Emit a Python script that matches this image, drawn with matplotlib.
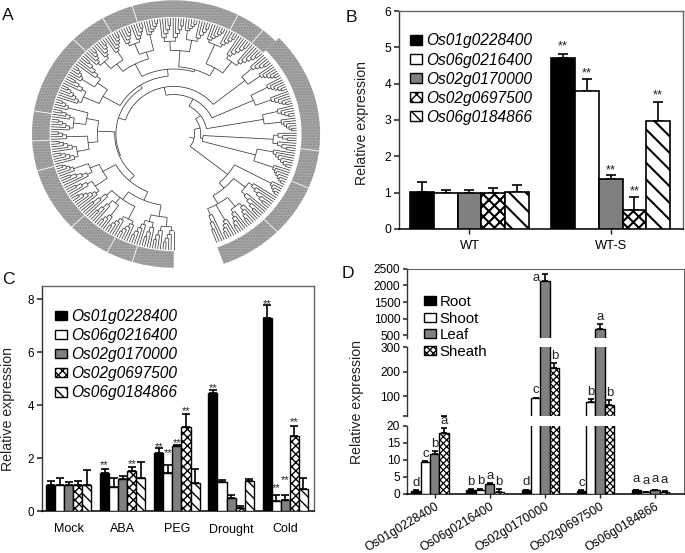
#!/usr/bin/env python3
"""Four panel figure: circular gene tree plus three relative expression bar charts."""

import matplotlib
matplotlib.use("Agg")
import matplotlib.pyplot as plt
import numpy as np
from matplotlib.collections import LineCollection
from matplotlib.patches import Patch, Wedge

W, H = 685, 553

genes = ["Os01g0228400", "Os06g0216400", "Os02g0170000", "Os02g0697500", "Os06g0184866"]

# panel B
b_groups = ["WT", "WT-S"]
b_values = [[1.03, 4.71], [1.0, 3.81], [1.0, 1.38], [1.0, 0.53], [1.02, 2.98]]
b_tops = [[1.28, 4.81], [1.07, 4.13], [1.07, 1.49], [1.13, 0.88], [1.22, 3.49]]
b_stars = [5.16, 4.40, 1.75, 1.16, 3.80]

# panel C
c_groups = ["Mock", "ABA", "PEG", "Drought", "Cold"]
c_values = [
    [1.0, 1.45, 2.2, 4.45, 7.3],
    [1.0, 0.9, 1.42, 1.1, 0.37],
    [1.0, 1.2, 2.47, 0.5, 0.43],
    [1.0, 1.52, 3.17, 0.1, 2.84],
    [1.0, 1.25, 1.06, 1.13, 0.85],
]
c_tops = [
    [1.15, 1.6, 2.39, 4.59, 7.77],
    [1.24, 1.25, 1.73, 1.17, 0.61],
    [1.08, 1.31, 2.49, 0.61, 0.59],
    [1.15, 1.68, 3.65, 0.18, 3.22],
    [1.54, 1.85, 1.58, 1.22, 1.24],
]
c_stars = [
    [None, 1.88, 2.55, 4.79, 7.97],
    [None, None, 2.33, None, 1.01],
    [None, None, 2.7, None, 1.32],
    [None, 1.92, 3.9, None, 3.5],
    [None, None, None, None, None],
]

# panel D
tissues = ["Root", "Shoot", "Leaf", "Sheath"]
d_values = [
    [1.0, 1.1, 1.1, 1.0, 1.1],
    [9.2, 1.1, 92, 78, 0.6],
    [11.6, 3.0, 2130, 680, 1.2],
    [17.9, 0.6, 215, 66, 0.6],
]
d_tops = [
    [1.2, 1.4, 1.3, 1.1, 1.2],
    [9.7, 1.6, 95, 90, 0.7],
    [12.6, 3.3, 2340, 830, 1.3],
    [19.2, 1.4, 235, 85, 0.9],
]
d_letters = [
    ["d", "b", "d", "c", "a"],
    ["c", "b", "c", "b", "a"],
    ["b", "a", "a", "a", "a"],
    ["a", "b", "b", "b", "a"],
]

# panel A: node = (radius, children), an int is a run of that many leaves
c01 = (.62, [(.72, [(.80, [5, 4]), (.78, [4, 5])]), (.70, [(.82, [5, 5]), (.76, [(.84, [4]), 4]), 4])])
c02 = (.66, [(.78, [6, 4]), (.74, [5, (.84, [5])])])
c03 = (.62, [(.70, [(.80, [5, 5]), (.84, [4])]), (.72, [(.82, [5, 4]), (.86, [4])])])
c04 = (.66, [(.80, [6, 4]), (.76, [(.86, [5]), 5])])
c05 = (.68, [(.76, [(.84, [5, 5]), (.82, [6])]), (.74, [(.84, [5, 5]), (.86, [6])])])
c06 = (.72, [(.80, [5, 5]), (.82, [(.88, [5]), 5])])
c07 = (.66, [(.76, [(.84, [6, 5])]), (.78, [6, 6])])
c08 = (.74, [(.82, [5]), (.84, [6])])
c09 = (.71, [(.84, [6]), (.82, [6])])
c10 = (.74, [(.84, [5]), (.86, [6])])
c11 = (.81, [4, 4])
c12 = (.69, [(.80, [7]), (.84, [7])])
c13 = (.56, [(.88, [5]), (.62, [(.74, [6, 5]), (.70, [(.80, [5, 5]), (.82, [5]), 4])])])
upper = (.50, [c04, (.56, [c05, (.58, [c06, c07])])])
lower = (.48, [(.54, [c01, c02]), c03])
tree = (.17, [(.22, [(.27, [(.34, [(.41, [(.47, [lower, upper]), c08]), c09]), c10]), (.24, [c11, c12])]), c13])
ring_breaks = [107, 120, 135, 170, 183, 196, 224, 242, 253, 63, 51, -7, -23, -45]

plt.rcParams["font.family"] = ["Liberation Sans", "DejaVu Sans"]

series_style = [
    dict(facecolor="black", hatch=None),
    dict(facecolor="white", hatch=None),
    dict(facecolor="#808080", hatch=None),
    dict(facecolor="white", hatch="xxx"),
    dict(facecolor="white", hatch="\\\\"),
]


def axes_px(fig, left, top, right, bottom, **kw):
    return fig.add_axes([left / W, 1 - bottom / H, (right - left) / W, (bottom - top) / H], **kw)


def style_axes(ax, size, tick_len=3.6):
    for side in ("left", "top", "right"):
        ax.spines[side].set_color("#666666")
        ax.spines[side].set_linewidth(1.0)
    ax.spines["left"].set_color("#333333")
    ax.spines["bottom"].set_color("black")
    ax.spines["bottom"].set_linewidth(1.1)
    ax.tick_params(axis="y", labelsize=size, length=tick_len, width=1.1, pad=2, color="#222222")
    ax.tick_params(axis="x", length=tick_len, width=1.0, color="#222222")


def add_bars(ax, centers, values, tops, styles, n_slots, lw, capsize, hatch_lw):
    for i, (vals, top, style) in enumerate(zip(values, tops, styles)):
        xs = np.asarray(centers) + i - (n_slots - 1) / 2
        vals, top = np.array(vals, float), np.array(top, float)
        bars = ax.bar(xs, vals, width=1.0, edgecolor="black", linewidth=lw, zorder=3, **style)
        for bar in bars:
            bar.set_hatch_linewidth(hatch_lw)
        ax.errorbar(xs, vals, yerr=[np.zeros_like(vals), top - vals], fmt="none", ecolor="black",
                    elinewidth=1.2, capsize=capsize, capthick=1.2, zorder=2)


def add_legend(fig, labels, styles, left, top, size, spacing, hatch_lw, italic=True):
    handles = [Patch(edgecolor="black", linewidth=1.0, **s) for s in styles]
    for h in handles:
        h.set_hatch_linewidth(hatch_lw)
    fig.legend(handles, labels, loc="upper left", bbox_to_anchor=(left / W, 1 - top / H),
               frameon=False, borderpad=0, borderaxespad=0, handlelength=0.8, handleheight=0.58,
               handletextpad=0.25, labelspacing=spacing,
               prop=dict(size=size, style="italic" if italic else "normal"))


def draw_tree(ax):
    n_leaves = 0
    stack = [tree]
    while stack:
        item = stack.pop()
        if isinstance(item, int):
            n_leaves += item
        else:
            stack.extend(item[1])
    span = 339.5
    gap = span / (n_leaves - 1)
    lines = []
    leaf_angles = []

    def xy(r, s):
        t = np.radians(-90 - s)
        return r * np.cos(t), r * np.sin(t)

    def arc(r, s0, s1):
        ss = np.linspace(s0, s1, max(2, int(abs(s1 - s0)) + 2))
        lines.append(np.column_stack(xy(r, ss)))

    def radial(r0, r1, s):
        lines.append(np.array([xy(r0, s), xy(r1, s)]))

    def comb(n, r_in):
        if n == 1:
            s = len(leaf_angles) * gap
            leaf_angles.append(s)
            radial(r_in, 1.0, s)
            return s
        r = r_in + (1.0 - r_in) / (n + 1)
        s1 = comb(1, r)
        s2 = comb(n - 1, r)
        arc(r, s1, s2)
        mid = (s1 + s2) / 2
        radial(r_in, r, mid)
        return mid

    def walk(node, r_parent):
        if isinstance(node, int):
            return comb(node, r_parent)
        r, kids = node
        angles = [walk(k, r) for k in kids]
        arc(r, angles[0], angles[-1])
        mid = (angles[0] + angles[-1]) / 2
        radial(r_parent, r, mid)
        return mid

    walk(tree, 0.13)
    ax.add_collection(LineCollection(lines, colors="#383838", linewidths=0.55))

    # labels around the tree are unreadable in the source, so only their grey band is kept
    band = dict(facecolor="#a8a8a8", edgecolor="#8a8a8a", hatch="......", linewidth=0)
    ax.add_patch(Wedge((0, 0), 1.152, 44, 270, width=0.142, **band))
    ax.add_patch(Wedge((0, 0), 1.19, -70, 44, width=0.15, **band))
    breaks = []
    for t in ring_breaks:
        c, d = np.cos(np.radians(t)), np.sin(np.radians(t))
        inner, outer = (1.04, 1.19) if -70 <= t <= 44 else (1.01, 1.152)
        breaks.append([(inner * c, inner * d), (outer * c, outer * d)])
    ax.add_collection(LineCollection(breaks, colors="white", linewidths=0.6))


fig = plt.figure(figsize=(W / 100, H / 100), dpi=100)

for letter, x, y in [("A", 2, 20.5), ("B", 346, 21.5), ("C", 2, 283.5), ("D", 342, 278)]:
    fig.text(x / W, 1 - y / H, letter, fontsize=12.6, va="baseline", ha="left", color="#111111")
for x, y in [(362, 123), (8, 409), (357, 402)]:
    fig.text(x / W, 1 - y / H, "Relative expression", fontsize=10.2, rotation=90,
             va="center", ha="center", color="#222222")

# A
ax_a = axes_px(fig, 10, 0, 340, 270)
ax_a.set_xlim(-1.331, 1.352)
ax_a.set_ylim(-1.172, 1.155)
ax_a.axis("off")
draw_tree(ax_a)

# B
ax_b = axes_px(fig, 399, 11, 683, 229)
style_axes(ax_b, 8.8)
ax_b.set_xlim(0, 11.93)
ax_b.set_ylim(0, 6)
b_centers = [2.96, 8.89]
add_bars(ax_b, b_centers, b_values, b_tops, series_style, 5, 1.2, 3.6, 1.5)
for i, star in enumerate(b_stars):
    ax_b.annotate("**", (b_centers[1] + i - 2, star), xytext=(0, -5.6), textcoords="offset points",
                  ha="center", va="baseline", fontsize=9.3, color="#222222", zorder=5)
ax_b.set_xticks(b_centers, b_groups, fontsize=9.3)
ax_b.tick_params(axis="x", pad=4)
add_legend(fig, genes, series_style, 410, 33.5, 11.2, 0.26, 0.9)

# C
c_style = [dict(s) for s in series_style]
c_style[3]["hatch"] = "xxxx"
c_style[4]["hatch"] = "\\\\\\"
ax_c = axes_px(fig, 42, 286, 314, 511)
style_axes(ax_c, 8.4)
ax_c.set_xlim(0, 30)
ax_c.set_ylim(0, 8.5)
c_centers = [2.94 + 5.97 * i for i in range(5)]
add_bars(ax_c, c_centers, c_values, c_tops, c_style, 5, 1.0, 2.6, 1.0)
for i, row in enumerate(c_stars):
    for j, star in enumerate(row):
        if star is not None:
            ax_c.annotate("**", (c_centers[j] + i - 2, star), xytext=(0, -4.8), textcoords="offset points",
                          ha="center", va="baseline", fontsize=8, color="#222222", zorder=5)
ax_c.set_yticks([0, 2, 4, 6, 8])
ax_c.set_xticks(c_centers, c_groups, fontsize=9)
ax_c.tick_params(axis="x", length=0, pad=9)
add_legend(fig, genes, c_style, 55, 309, 11.2, 0.26, 0.9)

# D, y axis broken in three
d_style = [dict(s) for s in series_style[:4]]
d_style[3]["hatch"] = "xxxxx"
d_frame = axes_px(fig, 407, 268.7, 684, 494)
d_frame.set_xticks([])
d_frame.set_yticks([])
d_frame.spines["left"].set_visible(False)
d_frame.spines["bottom"].set_visible(False)
for side in ("top", "right"):
    d_frame.spines[side].set_color("#666666")

d_xlim = (0, 29.6)
d_centers = [0.46 + 2.5 + 5.89 * i for i in range(5)]
segments = [
    (axes_px(fig, 407, 268.7, 684, 338), (420, 2500), [500, 1000, 1500, 2000, 2500], None),
    (axes_px(fig, 407, 347.3, 684, 416), (20, 300), [20, 100, 200, 300], ["", "100", "200", "300"]),
    (axes_px(fig, 407, 425.5, 684, 494), (0, 20), [0, 5, 10, 15, 20], None),
]
for ax, ylim, yticks, ylabels in segments:
    ax.patch.set_alpha(0)
    style_axes(ax, 8.6, tick_len=3)
    for side in ("top", "right"):
        ax.spines[side].set_visible(False)
    ax.set_xlim(d_xlim)
    ax.set_ylim(ylim)
    add_bars(ax, d_centers, d_values, d_tops, d_style, 5, 1.0, 2.2, 0.9)
    ax.set_yticks(yticks, ylabels if ylabels else [str(t) for t in yticks])
    for i, row in enumerate(d_letters):
        for j, letter in enumerate(row):
            top = d_tops[i][j]
            if not ylim[0] <= top < ylim[1]:
                continue
            left_shift = -6 if top > 2200 else 0
            rise = 5.5 if j == 4 else 3
            ax.annotate(letter, (d_centers[j] + i - 2, top), xytext=(left_shift, -5 if left_shift else rise),
                        textcoords="offset points", ha="center", va="baseline", fontsize=9.5,
                        color="#222222", annotation_clip=False, zorder=6)
for ax, _, _, _ in segments[:2]:
    ax.spines["bottom"].set_visible(False)
    ax.set_xticks([])
ax_d = segments[2][0]
ax_d.set_xticks(d_centers)
ax_d.set_xticklabels(genes, rotation=31, ha="right", rotation_mode="anchor", fontsize=8.7)
ax_d.tick_params(axis="x", pad=1.5)
add_legend(fig, tissues, d_style, 424, 295, 10.8, 0.17, 0.8, italic=False)

fig.savefig("out.png", dpi=100)
